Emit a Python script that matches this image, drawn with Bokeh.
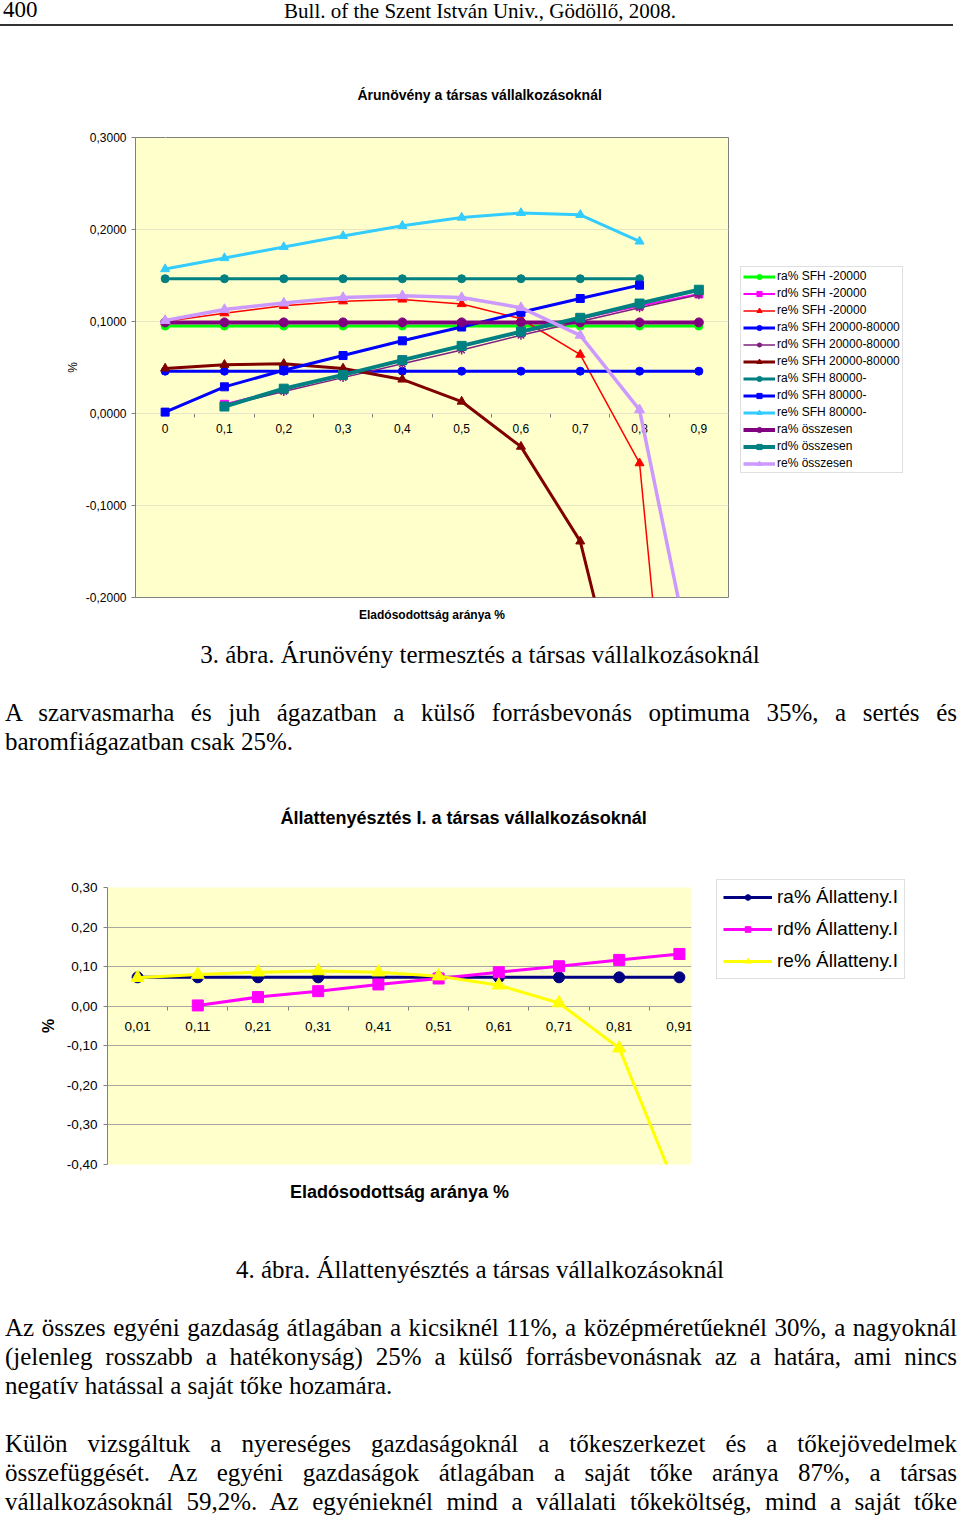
from bokeh.plotting import figure
from bokeh.models import (Div, FixedTicker, CustomJSTickFormatter, LinearAxis, Grid,
                          Legend, LegendItem, Range1d)
from bokeh.layouts import column
from bokeh.embed import file_html
from bokeh.resources import INLINE

nan = float("nan")
SANS = "Liberation Sans"

# ---------------- Chart 1: Árunövény a társas vállalkozásoknál ----------------
chart1_title = "Árunövény a társas vállalkozásoknál"
chart1_xlabel = "Eladósodottság aránya %"
chart1_ylabel = "%"
x1_values = [0.0, 0.1, 0.2, 0.3, 0.4, 0.5, 0.6, 0.7, 0.8, 0.9]
x1_labels = ["0", "0,1", "0,2", "0,3", "0,4", "0,5", "0,6", "0,7", "0,8", "0,9"]
y1_ticks = [-0.2, -0.1, 0.0, 0.1, 0.2, 0.3]
y1_labels = ["-0,2000", "-0,1000", "0,0000", "0,1000", "0,2000", "0,3000"]

ra_sfh_small = [0.095, 0.095, 0.095, 0.095, 0.095, 0.095, 0.095, 0.095, 0.095, 0.095]
rd_sfh_small = [nan, 0.010, 0.026, 0.042, 0.058, 0.073, 0.088, 0.103, 0.117, 0.130]
re_sfh_small = [0.100, 0.109, 0.117, 0.122, 0.124, 0.119, 0.103, 0.064, -0.054, -0.720]
ra_sfh_mid = [0.046, 0.046, 0.046, 0.046, 0.046, 0.046, 0.046, 0.046, 0.046, 0.046]
rd_sfh_mid = [nan, 0.008, 0.024, 0.039, 0.054, 0.069, 0.085, 0.100, 0.115, 0.129]
re_sfh_mid = [0.049, 0.053, 0.054, 0.049, 0.037, 0.013, -0.036, -0.139, -0.400, nan]
ra_sfh_large = [0.1465, 0.1465, 0.1465, 0.1465, 0.1465, 0.1465, 0.1465, 0.1465, 0.1465, nan]
rd_sfh_large = [0.0015, 0.029, 0.047, 0.063, 0.079, 0.094, 0.110, 0.125, 0.1395, nan]
re_sfh_large = [0.157, 0.169, 0.181, 0.193, 0.204, 0.213, 0.218, 0.216, 0.187, nan]
ra_total = [0.099, 0.099, 0.099, 0.099, 0.099, 0.099, 0.099, 0.099, 0.099, 0.099]
rd_total = [nan, 0.0076, 0.027, 0.042, 0.058, 0.0735, 0.089, 0.104, 0.1195, 0.1345]
re_total = [0.101, 0.113, 0.120, 0.126, 0.128, 0.126, 0.115, 0.085, 0.004, -0.310]

series1 = [
    ("ra% SFH -20000", ra_sfh_small, "#00FF00", "circle", 3, 8),
    ("rd% SFH -20000", rd_sfh_small, "#FF00FF", "square", 2, 8),
    ("re% SFH -20000", re_sfh_small, "#FF0000", "triangle", 1.5, 9),
    ("ra% SFH 20000-80000", ra_sfh_mid, "#0000FF", "circle", 3, 8),
    ("rd% SFH 20000-80000", rd_sfh_mid, "#7F1F7F", "asterisk", 1.5, 9),
    ("re% SFH 20000-80000", re_sfh_mid, "#800000", "triangle", 3, 9),
    ("ra% SFH 80000-", ra_sfh_large, "#008080", "circle", 3, 8),
    ("rd% SFH 80000-", rd_sfh_large, "#0000FF", "square", 3, 8),
    ("re% SFH 80000-", re_sfh_large, "#33CCFF", "triangle", 3, 9),
    ("ra% összesen", ra_total, "#800080", "circle", 4, 9),
    ("rd% összesen", rd_total, "#008080", "square", 4, 9),
    ("re% összesen", re_total, "#CC99FF", "triangle", 3.5, 10),
]

# ---------------- Chart 2: Állattenyésztés I. ----------------
chart2_title = "Állattenyésztés I. a társas vállalkozásoknál"
chart2_xlabel = "Eladósodottság aránya %"
chart2_ylabel = "%"
x2_values = [0.01, 0.11, 0.21, 0.31, 0.41, 0.51, 0.61, 0.71, 0.81, 0.91]
x2_labels = ["0,01", "0,11", "0,21", "0,31", "0,41", "0,51", "0,61", "0,71", "0,81", "0,91"]
y2_ticks = [-0.4, -0.3, -0.2, -0.1, 0.0, 0.1, 0.2, 0.3]
y2_labels = ["-0,40", "-0,30", "-0,20", "-0,10", "0,00", "0,10", "0,20", "0,30"]

ra_allat = [0.073, 0.073, 0.073, 0.073, 0.073, 0.073, 0.073, 0.073, 0.073, 0.073]
rd_allat = [nan, 0.002, 0.023, 0.038, 0.055, 0.070, 0.086, 0.101, 0.117, 0.132]
re_allat = [0.072, 0.080, 0.086, 0.089, 0.086, 0.076, 0.053, 0.008, -0.106, -0.480]

series2 = [
    ("ra% Állatteny.I", ra_allat, "#000080", "circle", 3, 11),
    ("rd% Állatteny.I", rd_allat, "#FF00FF", "square", 3, 11),
    ("re% Állatteny.I", re_allat, "#FFFF00", "triangle", 3, 13),
]

# ---------------- Text of the page ----------------
header_page = "400"
header_title = "Bull. of the Szent István Univ., Gödöllő, 2008."
caption3 = "3. ábra. Árunövény termesztés a társas vállalkozásoknál"
para1 = ["A szarvasmarha és juh ágazatban a külső forrásbevonás optimuma 35%, a sertés és",
         "baromfiágazatban csak 25%."]
caption4 = "4. ábra. Állattenyésztés a társas vállalkozásoknál"
para2 = ["Az összes egyéni gazdaság átlagában a kicsiknél 11%, a középméretűeknél 30%, a nagyoknál",
         "(jelenleg rosszabb a hatékonyság) 25% a külső forrásbevonásnak az a határa, ami nincs",
         "negatív hatással a saját tőke hozamára."]
para3 = ["Külön vizsgáltuk a nyereséges gazdaságoknál a tőkeszerkezet és a tőkejövedelmek",
         "összefüggését. Az egyéni gazdaságok átlagában a saját tőke aránya 87%, a társas",
         "vállalkozásoknál 59,2%. Az egyénieknél mind a vállalati tőkeköltség, mind a saját tőke"]


def label_formatter(vals, labs):
    return CustomJSTickFormatter(args=dict(vals=vals, labs=labs), code="""
        for (let i = 0; i < vals.length; i++) {
            if (Math.abs(vals[i] - tick) < 1e-9) { return labs[i]; }
        }
        return "";
    """)


def build_chart(title, xlabel, ylabel, xv, xl, yt, yl, series, cfg):
    step = xv[1] - xv[0]
    x_start = xv[0] - step / 2
    p = figure(x_range=Range1d(x_start, x_start + cfg["fw"] / cfg["unit_px"]),
               y_range=Range1d(yt[0], yt[-1]),
               frame_width=cfg["fw"], frame_height=cfg["fh"],
               min_border_left=cfg["bl"], min_border_right=cfg["br"],
               min_border_top=cfg["bt"], min_border_bottom=cfg["bb"],
               x_axis_type=None, y_axis_type=None,
               output_backend="svg", toolbar_location=None, title=title,
               margin=cfg["margin"])
    p.background_fill_color = "#FFFFCC"
    p.border_fill_color = "white"
    p.outline_line_color = cfg["outline"]
    p.title.align = "left"
    p.title.offset = cfg["title_offset"]
    p.title.standoff = 10
    p.title.text_font = SANS
    p.title.text_font_size = cfg["title_size"]
    p.title.text_font_style = "bold"
    p.title.text_color = "black"

    # invisible spacer axis between the title and the plot area
    spacer = LinearAxis(ticker=FixedTicker(ticks=[xv[0]]),
                        formatter=CustomJSTickFormatter(code="return '';"),
                        axis_line_color=None, major_tick_line_color="white",
                        minor_tick_line_color=None,
                        major_tick_out=cfg["title_gap"], major_tick_in=0, minor_tick_out=0,
                        major_label_standoff=0, major_label_text_font_size="0px")
    p.add_layout(spacer, "above")

    p.add_layout(Grid(dimension=1, ticker=FixedTicker(ticks=yt),
                      grid_line_color=cfg["grid"], grid_line_width=1))

    yax = LinearAxis(ticker=FixedTicker(ticks=yt), formatter=label_formatter(yt, yl),
                     axis_label=ylabel, axis_label_standoff=cfg["ylab_standoff"],
                     axis_label_text_font=SANS, axis_label_text_font_size=cfg["ylab_size"],
                     axis_label_text_font_style=cfg["ylab_style"], axis_label_text_color="black",
                     major_label_text_font=SANS, major_label_text_font_size=cfg["tick_size"],
                     major_label_text_color="black", major_label_standoff=cfg["ytick_standoff"],
                     major_tick_out=4, major_tick_in=0, major_tick_line_color="#808080",
                     minor_tick_line_color=None, axis_line_color="#808080")
    p.add_layout(yax, "left")

    xtitle = LinearAxis(ticker=FixedTicker(ticks=[]), axis_label=xlabel,
                        axis_label_standoff=cfg["xlab_standoff"],
                        axis_label_text_font=SANS, axis_label_text_font_size=cfg["xlab_size"],
                        axis_label_text_font_style="bold", axis_label_text_color="black",
                        axis_line_color=None, major_tick_line_color=None,
                        minor_tick_line_color=None, major_label_text_font_size="0px")
    p.add_layout(xtitle, "below")

    bounds = [xv[0] - step / 2] + [v + step / 2 for v in xv]
    xax = LinearAxis(fixed_location=0, ticker=FixedTicker(ticks=xv, minor_ticks=bounds),
                     formatter=label_formatter(xv, xl),
                     major_label_text_font=SANS, major_label_text_font_size=cfg["tick_size"],
                     major_label_text_color="black", major_label_standoff=cfg["xtick_standoff"],
                     major_tick_out=0, major_tick_in=0, major_tick_line_color=None,
                     minor_tick_out=4, minor_tick_in=0, minor_tick_line_color="#808080",
                     axis_line_color="#808080", axis_line_width=1.2, level="underlay")
    p.add_layout(xax, "below")

    items = []
    for name, vals, color, marker, lw, size in series:
        rl = p.line(xv, vals, line_color=color, line_width=lw)
        if marker == "asterisk":
            rm = p.scatter(xv, vals, marker=marker, size=size, line_color=color, line_width=1.5)
        else:
            rm = p.scatter(xv, vals, marker=marker, size=size, fill_color=color, line_color=color)
        items.append(LegendItem(label=name, renderers=[rl, rm]))

    leg = Legend(items=items, location=cfg["leg_loc"], orientation="vertical",
                 glyph_width=cfg["gw"], glyph_height=cfg["gh"], label_height=cfg["gh"],
                 label_standoff=cfg["lstand"], spacing=cfg["spacing"], padding=cfg["pad"],
                 margin=0, label_text_font=SANS, label_text_font_size=cfg["leg_size"],
                 label_text_color="black", border_line_color="#BFBFBF",
                 background_fill_color="white", background_fill_alpha=1.0)
    p.add_layout(leg, "right")
    return p


cfg1 = dict(fw=593, unit_px=593, fh=460, bl=135, br=232, bt=97, bb=33,
            outline="#808080", margin=0,
            title_offset=222, title_gap=30, title_size="14px", grid="#E6E6C6",
            ylab_standoff=3, ylab_size="12px", ylab_style="normal", tick_size="12px",
            ytick_standoff=5, xlab_standoff=10, xlab_size="12px", xtick_standoff=6,
            leg_loc=(12, 124), gw=32, gh=13, lstand=2, spacing=3, pad=2, leg_size="12px")
p1 = build_chart(chart1_title, chart1_xlabel, chart1_ylabel, x1_values, x1_labels,
                 y1_ticks, y1_labels, series1, cfg1)

cfg2 = dict(fw=584, unit_px=602, fh=277, bl=135, br=232, bt=97, bb=86,
            outline=None, margin=(0, 0, 0, -28),
            title_offset=173, title_gap=55, title_size="18px", grid="#A8A8A0",
            ylab_standoff=7, ylab_size="16px", ylab_style="bold", tick_size="13.5px",
            ytick_standoff=6, xlab_standoff=17, xlab_size="18px", xtick_standoff=12,
            leg_loc=(25, 185), gw=49, gh=14, lstand=5, spacing=10, pad=6, leg_size="19px")
p2 = build_chart(chart2_title, chart2_xlabel, chart2_ylabel, x2_values, x2_labels,
                 y2_ticks, y2_labels, series2, cfg2)


def text_div(height, entries):
    html = [f'<div style="position:relative;width:960px;height:{height}px;'
            f"font-family:'Liberation Serif',serif;font-size:25px;line-height:29px;color:#000;\">"]
    for top, txt, mode in entries:
        if mode == "center":
            st = "left:0px;width:960px;text-align:center;"
        elif mode == "justify":
            st = "left:5px;width:952px;text-align:justify;text-align-last:justify;"
        else:
            st = "left:5px;width:952px;text-align:left;"
        html.append(f'<div style="position:absolute;top:{top}px;{st}">{txt}</div>')
    html.append("</div>")
    return Div(text="".join(html), width=960, height=height, margin=0)


header = Div(text=(
    "<div style=\"position:relative;width:960px;height:40px;font-family:'Liberation Serif',serif;color:#000;\">"
    f"<div style=\"position:absolute;left:3px;top:-2px;font-size:23px;line-height:24px;\">{header_page}</div>"
    f"<div style=\"position:absolute;left:0px;width:960px;top:-1px;text-align:center;font-size:21px;line-height:24px;\">{header_title}</div>"
    "<div style=\"position:absolute;left:0px;top:24px;width:953px;height:0px;border-top:2px solid #333;\"></div>"
    "</div>"), width=960, height=40, margin=0)

mid = text_div(160, [(10, caption3, "center"), (68, para1[0], "justify"), (97, para1[1], "left")])
bottom = text_div(267, [(5, caption4, "center"),
                        (63, para2[0], "justify"), (92, para2[1], "justify"), (121, para2[2], "left"),
                        (179, para3[0], "justify"), (208, para3[1], "justify"), (237, para3[2], "justify")])

page = column(header, p1, mid, p2, bottom, spacing=0, margin=0)

open("out.html", "w", encoding="utf-8").write(file_html(page, INLINE))
